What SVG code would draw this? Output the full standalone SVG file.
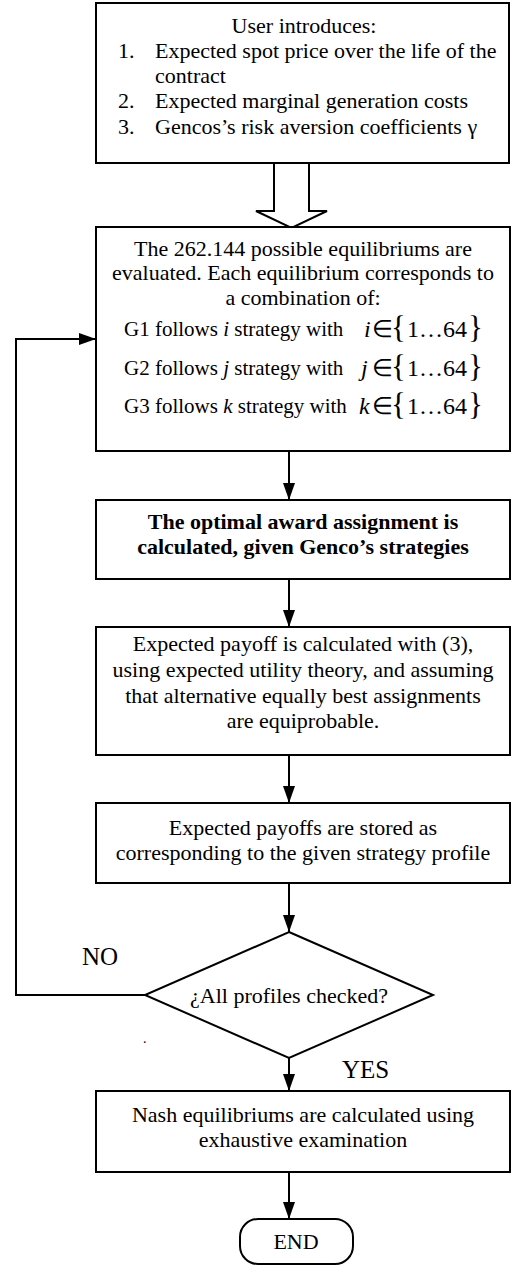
<svg xmlns="http://www.w3.org/2000/svg" width="515" height="1266" viewBox="0 0 515 1266">
<style>
.box{fill:#fff;stroke:#000;stroke-width:2}
.ln{fill:none;stroke:#000;stroke-width:2}
text{font-family:"Liberation Serif","Times New Roman",serif;font-size:22px;fill:#000}
.c{text-anchor:middle}
.b{font-weight:bold}
.it{font-style:italic}
.g{font-size:21px}
.m{font-size:24px}
.br{font-size:31px}
.lbl{font-size:25px}
</style>
<defs>
<marker id="ah" markerUnits="userSpaceOnUse" markerWidth="17" markerHeight="12" refX="17" refY="6" orient="auto">
<path d="M0,0 L17,6 L0,12 z" fill="#000"/>
</marker>
</defs>
<g id="input">
<rect class="box" x="96" y="3" width="413" height="160"/>
<text class="c" x="304" y="33">User introduces:</text>
<text x="118" y="58">1.</text><text x="155" y="58">Expected spot price over the life of the</text>
<text x="155" y="83">contract</text>
<text x="118" y="108">2.</text><text x="155" y="108">Expected marginal generation costs</text>
<text x="118" y="134">3.</text><text x="155" y="134">Gencos’s risk aversion coefficients γ</text>
</g>
<g id="bigarrow">
<polygon class="box" points="274,163 274,211 256,211 291.5,228 327,211 309,211 309,163"/>
</g>
<g id="evaluate">
<rect class="box" x="96" y="227" width="414" height="224"/>
<text class="c" x="303" y="256">The 262.144 possible equilibriums are</text>
<text class="c" x="303" y="280">evaluated. Each equilibrium corresponds to</text>
<text class="c" x="303" y="305">a combination of:</text>
<text class="g" x="124" y="336">G1 follows <tspan class="it">i</tspan> strategy with</text>
<text class="m" y="337"><tspan class="it" x="364">i</tspan><tspan x="372">∈</tspan><tspan class="br" x="391" dy="1">{</tspan><tspan x="407" dy="-1">1…64</tspan><tspan class="br" x="468" dy="1">}</tspan></text>
<text class="g" x="124" y="375">G2 follows <tspan class="it">j</tspan> strategy with</text>
<text class="m" y="376"><tspan class="it" x="361">j</tspan><tspan x="372">∈</tspan><tspan class="br" x="391" dy="1">{</tspan><tspan x="407" dy="-1">1…64</tspan><tspan class="br" x="468" dy="1">}</tspan></text>
<text class="g" x="124" y="413">G3 follows <tspan class="it">k</tspan> strategy with</text>
<text class="m" y="414"><tspan class="it" x="359">k</tspan><tspan x="372">∈</tspan><tspan class="br" x="391" dy="1">{</tspan><tspan x="407" dy="-1">1…64</tspan><tspan class="br" x="468" dy="1">}</tspan></text>
</g>
<g id="award">
<rect class="box" x="96" y="500" width="414" height="79"/>
<text class="c b" x="303" y="529">The optimal award assignment is</text>
<text class="c b" x="303" y="554">calculated, given Genco’s strategies</text>
</g>
<g id="payoff">
<rect class="box" x="96" y="627" width="414" height="128"/>
<text class="c" x="303" y="651">Expected payoff is calculated with (3),</text>
<text class="c" x="303" y="677">using expected utility theory, and assuming</text>
<text class="c" x="303" y="703">that alternative equally best assignments</text>
<text class="c" x="303" y="728">are equiprobable.</text>
</g>
<g id="store">
<rect class="box" x="96" y="803" width="414" height="80"/>
<text class="c" x="303" y="835">Expected payoffs are stored as</text>
<text class="c" x="303" y="860">corresponding to the given strategy profile</text>
</g>
<g id="check">
<polygon class="box" points="289,932 433,995 289,1058 145,995"/>
<text class="c" x="289" y="1003">¿All profiles checked?</text>
</g>
<g id="nash">
<rect class="box" x="96" y="1091" width="414" height="81"/>
<text class="c" x="303" y="1122">Nash equilibriums are calculated using</text>
<text class="c" x="303" y="1147">exhaustive examination</text>
</g>
<g id="end">
<rect class="box" x="240" y="1219" width="113" height="45" rx="18"/>
<text class="c" x="296" y="1249">END</text>
</g>
<g id="connectors">
<line class="ln" x1="289" y1="451" x2="289" y2="500" marker-end="url(#ah)"/>
<line class="ln" x1="289" y1="579" x2="289" y2="627" marker-end="url(#ah)"/>
<line class="ln" x1="289" y1="755" x2="289" y2="803" marker-end="url(#ah)"/>
<line class="ln" x1="289" y1="883" x2="289" y2="932" marker-end="url(#ah)"/>
<line class="ln" x1="289" y1="1058" x2="289" y2="1091" marker-end="url(#ah)"/>
<line class="ln" x1="289" y1="1172" x2="289" y2="1219" marker-end="url(#ah)"/>
<polyline class="ln" points="145,995 16,995 16,339 96,339" marker-end="url(#ah)"/>
<text class="lbl" x="82" y="965">NO</text>
<text class="lbl" x="342" y="1078">YES</text>
<text x="143" y="1043" style="font-size:14px">.</text>
</g>
</svg>
